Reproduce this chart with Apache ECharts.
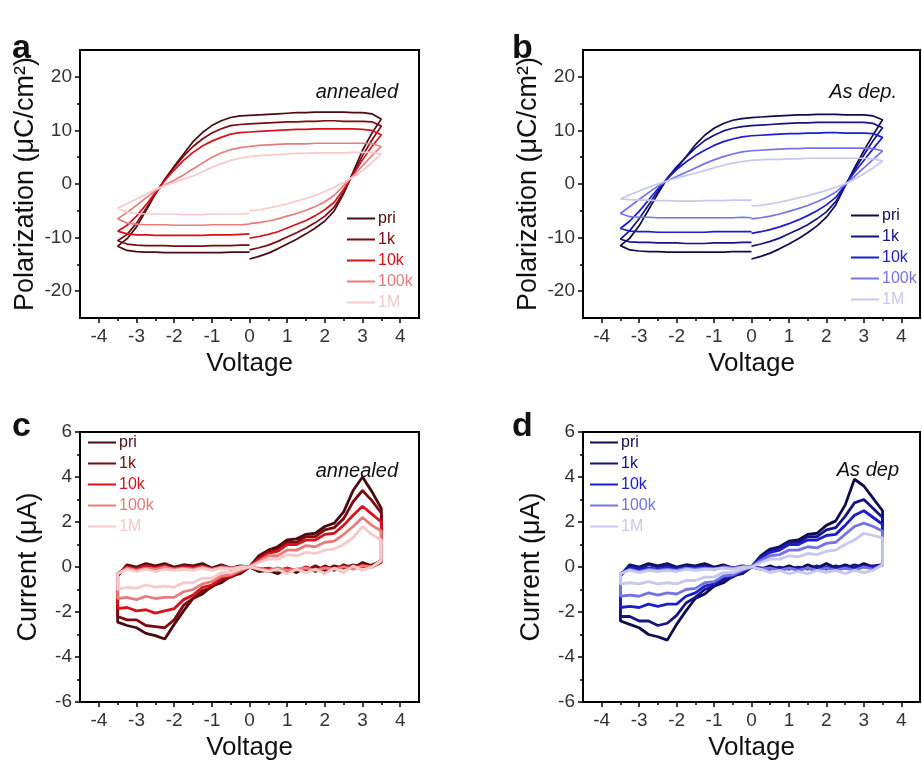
<!DOCTYPE html>
<html>
<head>
<meta charset="utf-8">
<script src="https://cdn.jsdelivr.net/npm/echarts@6/dist/echarts.min.js"></script>
<style>
html,body{margin:0;padding:0;background:#fff;}
#chart{width:922px;height:766px;}
</style>
</head>
<body>
<div id="chart"></div>
<script>
// ---------- categories / tick labels ----------
const SERIES_NAMES = ['pri', '1k', '10k', '100k', '1M'];
const X_TICKS = [-4, -3, -2, -1, 0, 1, 2, 3, 4];
const X_MINOR = [-3.5, -2.5, -1.5, -0.5, 0.5, 1.5, 2.5, 3.5];
const P_TICKS = [-20, -10, 0, 10, 20];
const P_MINOR = [-15, -5, 5, 15];
const I_TICKS = [-6, -4, -2, 0, 2, 4, 6];
const I_MINOR = [-5, -3, -1, 1, 3, 5];

// ---------- voltage sweeps ----------
const V_POS = [0, 0.25, 0.5, 0.75, 1, 1.25, 1.5, 1.75, 2, 2.25, 2.5, 2.75, 3, 3.25, 3.5];
const V_POS_REV = [3.5, 3.25, 3, 2.75, 2.5, 2.25, 2, 1.75, 1.5, 1.25, 1, 0.75, 0.5, 0.25, 0];
const V_DOWN = [3.5, 3.25, 3, 2.75, 2.5, 2.25, 2, 1.75, 1.5, 1.25, 1, 0.75, 0.5, 0.25, 0,
  -0.25, -0.5, -0.75, -1, -1.25, -1.5, -1.75, -2, -2.25, -2.5, -2.75, -3, -3.25, -3.5];
const V_NEG = [0, -0.25, -0.5, -0.75, -1, -1.25, -1.5, -1.75, -2, -2.25, -2.5, -2.75, -3, -3.25, -3.5];
const V_NEG_REV = [-3.5, -3.25, -3, -2.75, -2.5, -2.25, -2, -1.75, -1.5, -1.25, -1, -0.75, -0.5, -0.25, 0];

// ---------- panel a: polarization (annealed), rows = pri,1k,10k,100k,1M ----------
const PE_A_LOWER = [
  [-14.0,-13.5,-12.9,-12.1,-11.2,-10.3,-9.3,-8.2,-6.9,-5.0,-1.8,2.2,6.3,9.5,12.1],
  [-12.3,-11.9,-11.4,-10.7,-9.9,-9.1,-8.2,-7.2,-6.0,-4.3,-1.5,1.9,5.3,8.2,10.8],
  [-10.1,-9.8,-9.4,-8.9,-8.2,-7.5,-6.8,-5.9,-4.8,-3.4,-1.0,1.7,4.5,7.0,9.2],
  [-7.4,-7.2,-6.9,-6.5,-6.0,-5.5,-4.9,-4.2,-3.3,-2.1,-0.3,1.5,3.4,5.3,7.0],
  [-5.0,-4.8,-4.5,-4.1,-3.7,-3.2,-2.7,-2.1,-1.4,-0.6,0.3,1.3,2.5,4.0,5.6]
];
const PE_A_UPPER = [
  [12.1,13.1,13.3,13.3,13.4,13.4,13.4,13.4,13.3,13.3,13.2,13.1,13.0,12.9,12.8,12.7,12.4,11.8,10.9,9.6,7.9,5.6,3.3,0.9,-1.9,-5.0,-8.0,-10.2,-11.6],
  [10.8,11.6,11.7,11.7,11.7,11.8,11.8,11.7,11.7,11.6,11.6,11.5,11.4,11.3,11.2,11.1,10.9,10.3,9.5,8.4,7.0,5.2,3.1,0.8,-1.8,-4.6,-7.3,-9.4,-10.6],
  [9.2,10.0,10.2,10.3,10.3,10.3,10.3,10.3,10.2,10.2,10.1,10.0,9.9,9.8,9.7,9.6,9.3,8.7,8.0,7.1,5.9,4.4,2.6,0.6,-1.6,-3.9,-6.0,-7.7,-8.8],
  [7.0,7.5,7.6,7.6,7.6,7.6,7.6,7.6,7.5,7.5,7.5,7.4,7.3,7.2,7.0,6.8,6.4,5.8,5.0,3.9,2.8,1.7,0.7,-0.2,-1.3,-2.6,-4.0,-5.3,-6.5],
  [5.6,5.9,5.9,5.9,5.8,5.8,5.8,5.8,5.7,5.7,5.6,5.5,5.4,5.3,5.1,4.8,4.4,3.8,3.1,2.3,1.5,0.9,0.3,-0.3,-1.0,-1.9,-2.8,-3.7,-4.5]
];
const PE_A_RETURN = [
  [-11.6,-12.4,-12.6,-12.7,-12.7,-12.8,-12.8,-12.8,-12.8,-12.8,-12.8,-12.8,-12.7,-12.7,-12.7],
  [-10.6,-11.2,-11.4,-11.5,-11.5,-11.5,-11.6,-11.6,-11.6,-11.6,-11.5,-11.5,-11.5,-11.4,-11.4],
  [-8.8,-9.3,-9.5,-9.5,-9.6,-9.6,-9.6,-9.6,-9.6,-9.6,-9.5,-9.5,-9.5,-9.4,-9.3],
  [-6.5,-7.3,-7.5,-7.6,-7.6,-7.6,-7.7,-7.7,-7.7,-7.7,-7.6,-7.6,-7.6,-7.6,-7.5],
  [-4.5,-5.2,-5.5,-5.6,-5.6,-5.6,-5.6,-5.7,-5.7,-5.7,-5.6,-5.6,-5.6,-5.6,-5.5]
];

// ---------- panel b: polarization (as dep.) ----------
const PE_B_LOWER = [
  [-14.0,-13.5,-12.9,-12.1,-11.2,-10.2,-9.1,-7.8,-6.2,-3.9,-0.4,3.0,6.2,9.2,12.0],
  [-11.6,-11.2,-10.7,-10.1,-9.3,-8.5,-7.6,-6.5,-5.2,-3.3,-0.3,2.6,5.4,8.1,10.5],
  [-9.2,-8.9,-8.5,-8.0,-7.4,-6.7,-5.9,-5.0,-3.9,-2.5,-0.2,2.2,4.4,6.6,8.7],
  [-6.5,-6.3,-6.0,-5.6,-5.1,-4.6,-4.0,-3.3,-2.5,-1.5,-0.1,1.4,3.0,4.6,6.2],
  [-4.1,-4.0,-3.7,-3.4,-3.0,-2.6,-2.2,-1.7,-1.2,-0.6,0.0,0.9,1.9,3.0,4.3]
];
const PE_B_UPPER = [
  [12.0,12.7,12.9,12.9,12.9,13.0,13.0,13.0,12.9,12.9,12.8,12.7,12.6,12.5,12.4,12.2,11.9,11.3,10.4,9.1,7.3,5.1,2.9,1.0,-1.8,-4.8,-7.8,-10.1,-11.5],
  [10.5,11.3,11.5,11.5,11.5,11.5,11.5,11.5,11.4,11.4,11.3,11.2,11.1,11.0,10.9,10.7,10.4,9.9,9.1,8.1,6.7,5.0,3.2,1.1,-1.3,-3.9,-6.5,-8.7,-10.3],
  [8.7,9.4,9.5,9.5,9.5,9.6,9.6,9.5,9.5,9.4,9.4,9.3,9.2,9.1,9.0,8.8,8.4,7.9,7.2,6.3,5.3,4.1,2.7,1.0,-0.9,-3.0,-5.1,-6.9,-8.3],
  [6.2,6.6,6.7,6.7,6.7,6.7,6.7,6.7,6.7,6.6,6.6,6.5,6.4,6.3,6.2,6.0,5.6,5.1,4.5,3.8,3.0,2.2,1.4,0.6,-0.4,-1.6,-2.9,-4.2,-5.5],
  [4.3,4.7,4.8,4.8,4.8,4.8,4.8,4.8,4.8,4.7,4.7,4.6,4.6,4.5,4.4,4.2,3.9,3.5,3.0,2.5,2.0,1.6,1.1,0.6,0.0,-0.6,-1.3,-2.0,-2.8]
];
const PE_B_RETURN = [
  [-11.5,-12.3,-12.5,-12.6,-12.6,-12.7,-12.7,-12.7,-12.7,-12.7,-12.7,-12.7,-12.6,-12.6,-12.6],
  [-10.3,-10.8,-10.9,-10.9,-11.0,-11.0,-11.0,-11.1,-11.1,-11.1,-11.0,-11.0,-11.0,-10.9,-10.9],
  [-8.3,-8.8,-8.9,-8.9,-9.0,-9.0,-9.0,-9.0,-9.0,-9.0,-8.9,-8.9,-8.9,-8.9,-8.9],
  [-5.5,-6.1,-6.2,-6.2,-6.3,-6.3,-6.3,-6.3,-6.3,-6.3,-6.3,-6.3,-6.3,-6.2,-6.3],
  [-2.8,-2.9,-3.0,-3.0,-3.1,-3.1,-3.2,-3.2,-3.2,-3.1,-3.1,-3.1,-3.0,-3.0,-3.0]
];

// ---------- panel c: current (annealed) ----------
const IV_C_FWD_POS = [
  [0.0,0.5,0.75,0.9,1.2,1.25,1.45,1.5,1.8,1.95,2.45,3.4,4.0,3.35,2.6],
  [0.0,0.4,0.7,0.8,1.1,1.1,1.35,1.35,1.65,1.75,2.15,2.9,3.4,2.95,2.4],
  [0.0,0.35,0.6,0.7,1.0,1.0,1.2,1.2,1.45,1.5,1.85,2.3,2.7,2.35,2.0],
  [0.0,0.25,0.5,0.5,0.75,0.75,0.95,0.9,1.1,1.15,1.45,1.8,2.2,1.85,1.6],
  [0.0,0.2,0.35,0.35,0.55,0.5,0.65,0.6,0.75,0.8,1.0,1.3,1.8,1.45,1.2]
];
const IV_C_BACK_POS = [
  [0.3,0.05,0.2,-0.05,0.1,-0.15,0.05,-0.2,0.0,-0.25,-0.05,-0.3,-0.15,-0.2,0.0],
  [0.25,0.1,0.0,0.1,-0.05,0.05,-0.15,0.05,-0.15,-0.1,-0.2,-0.05,-0.2,-0.1,0.0],
  [0.2,0.0,0.1,-0.05,0.05,-0.1,0.0,-0.15,0.0,-0.15,-0.05,-0.15,-0.05,-0.1,0.0],
  [0.25,0.0,0.05,-0.1,0.0,-0.1,-0.05,-0.15,-0.05,-0.1,-0.15,-0.05,-0.15,-0.05,0.0],
  [0.3,0.0,-0.15,0.05,-0.25,-0.05,-0.3,-0.1,-0.25,-0.1,-0.3,-0.1,-0.2,-0.1,0.0]
];
const IV_C_FWD_NEG = [
  [0.0,-0.3,-0.4,-0.7,-0.85,-1.2,-1.4,-1.95,-2.55,-3.2,-3.05,-2.95,-2.7,-2.6,-2.45],
  [0.0,-0.25,-0.45,-0.55,-0.9,-1.05,-1.4,-1.7,-2.35,-2.7,-2.65,-2.6,-2.35,-2.35,-2.2],
  [0.0,-0.2,-0.4,-0.5,-0.8,-0.9,-1.25,-1.45,-1.85,-1.95,-2.05,-1.9,-1.95,-1.8,-1.85],
  [0.0,-0.15,-0.35,-0.4,-0.65,-0.75,-1.0,-1.1,-1.35,-1.35,-1.4,-1.3,-1.45,-1.35,-1.4],
  [0.0,-0.1,-0.25,-0.25,-0.5,-0.5,-0.7,-0.7,-0.9,-0.85,-0.9,-0.8,-0.95,-0.9,-1.0]
];
const IV_C_BACK_NEG = [
  [-0.4,0.1,0.0,0.15,0.05,0.15,0.0,0.1,0.05,0.15,-0.05,0.1,-0.05,0.05,0.0],
  [-0.35,0.05,-0.05,0.1,0.0,0.1,-0.05,0.05,0.0,0.05,-0.1,0.05,-0.1,0.0,0.0],
  [-0.3,0.0,-0.1,0.05,-0.05,0.05,-0.1,0.0,-0.05,0.05,-0.1,0.0,-0.1,0.0,0.0],
  [-0.3,-0.05,-0.15,-0.05,-0.1,0.0,-0.1,-0.05,-0.1,0.0,-0.1,0.0,-0.05,0.0,0.0],
  [-0.3,-0.1,-0.2,-0.1,-0.2,-0.1,-0.15,-0.1,-0.15,-0.05,-0.15,-0.05,-0.1,0.0,0.0]
];

// ---------- panel d: current (as dep) ----------
const IV_D_FWD_POS = [
  [0.0,0.5,0.8,0.9,1.15,1.2,1.45,1.5,1.85,2.05,2.75,3.9,3.6,3.05,2.5],
  [0.0,0.45,0.75,0.85,1.1,1.1,1.35,1.35,1.65,1.75,2.25,2.85,3.0,2.6,2.2],
  [0.0,0.4,0.65,0.75,1.0,1.0,1.2,1.2,1.4,1.45,1.85,2.3,2.5,2.2,1.9],
  [0.0,0.3,0.5,0.55,0.75,0.75,0.9,0.85,1.05,1.1,1.45,1.8,1.95,1.8,1.6],
  [0.0,0.2,0.35,0.35,0.5,0.45,0.6,0.55,0.7,0.75,1.0,1.2,1.5,1.4,1.3]
];
const IV_D_BACK_POS = [
  [0.1,0.0,0.15,-0.05,0.1,-0.05,0.15,-0.05,0.1,-0.1,0.05,-0.1,0.05,-0.1,0.0],
  [0.1,0.05,0.0,0.1,-0.05,0.05,-0.1,0.05,-0.1,0.0,-0.1,0.0,-0.1,-0.05,0.0],
  [0.1,-0.05,0.05,-0.1,0.0,-0.1,0.0,-0.15,-0.05,-0.1,-0.05,-0.15,-0.05,-0.05,0.0],
  [0.1,-0.1,0.0,-0.15,-0.05,-0.15,-0.05,-0.15,-0.05,-0.15,-0.05,-0.15,-0.05,-0.1,0.0],
  [0.1,-0.15,-0.25,-0.15,-0.3,-0.15,-0.25,-0.15,-0.3,-0.2,-0.3,-0.15,-0.25,-0.1,0.0]
];
const IV_D_FWD_NEG = [
  [0.0,-0.3,-0.4,-0.7,-0.85,-1.2,-1.4,-1.95,-2.55,-3.25,-3.1,-3.0,-2.7,-2.55,-2.4],
  [0.0,-0.2,-0.45,-0.55,-0.85,-1.0,-1.35,-1.6,-2.15,-2.5,-2.6,-2.4,-2.4,-2.2,-2.2],
  [0.0,-0.2,-0.4,-0.45,-0.75,-0.85,-1.15,-1.3,-1.65,-1.65,-1.75,-1.65,-1.8,-1.75,-1.8],
  [0.0,-0.15,-0.35,-0.4,-0.65,-0.7,-0.95,-1.0,-1.2,-1.15,-1.25,-1.15,-1.3,-1.25,-1.3],
  [0.0,-0.1,-0.25,-0.25,-0.45,-0.45,-0.6,-0.6,-0.75,-0.7,-0.75,-0.65,-0.75,-0.7,-0.75]
];
const IV_D_BACK_NEG = [
  [-0.4,0.1,0.0,0.15,0.05,0.15,0.0,0.1,0.05,0.15,0.0,0.1,-0.05,0.05,0.0],
  [-0.35,0.05,-0.05,0.1,0.0,0.1,-0.05,0.05,0.0,0.05,-0.05,0.05,-0.05,0.0,0.0],
  [-0.3,-0.05,-0.1,-0.05,-0.1,0.0,-0.1,-0.05,-0.05,0.0,-0.1,0.0,-0.05,0.0,0.0],
  [-0.3,-0.1,-0.2,-0.1,-0.15,-0.1,-0.15,-0.05,-0.1,-0.05,-0.1,0.0,-0.05,0.0,0.0],
  [-0.3,-0.15,-0.25,-0.15,-0.2,-0.15,-0.2,-0.1,-0.15,-0.1,-0.1,-0.05,-0.1,0.0,0.0]
];

// ---------- styling ----------
const REDS = ['#4b0b0e', '#7d0a10', '#d8121a', '#e67c7c', '#f7c9c9'];
const BLUES = ['#0d0d4d', '#141485', '#1c1cd0', '#7474e4', '#c6c8f2'];
const FONT = 'Liberation Sans, Arial, sans-serif';

function zip(xs, ys) { return xs.map((x, i) => [x, ys[i]]); }

const chart = echarts.init(document.getElementById('chart'), null, {renderer: 'canvas'});

const grids = [
  {left: 80, top: 50, width: 339, height: 268},
  {left: 583, top: 50, width: 337, height: 268},
  {left: 80, top: 432, width: 339, height: 270},
  {left: 583, top: 432, width: 337, height: 270}
].map(g => Object.assign({show: true, borderColor: '#000', borderWidth: 2, containLabel: false}, g));

const xAxes = [], yAxes = [];
function addAxes(gi, yMin, yMax, yTicks, yMinor, yName, yGap) {
  xAxes.push({
    type: 'value', gridIndex: gi, position: 'bottom', min: -4.5, max: 4.5,
    axisLine: {show: true, onZero: false, lineStyle: {color: '#000', width: 2}},
    axisTick: {show: true, inside: false, length: 5, customValues: X_TICKS, lineStyle: {color: '#000', width: 1.5}},
    axisLabel: {show: true, customValues: X_TICKS, fontSize: 19, color: '#333', margin: 9, fontFamily: FONT},
    splitLine: {show: false},
    name: 'Voltage', nameLocation: 'middle', nameGap: 33,
    nameTextStyle: {fontSize: 26, color: '#111', fontFamily: FONT}
  });
  xAxes.push({
    type: 'value', gridIndex: gi, position: 'bottom', min: -4.5, max: 4.5,
    axisLine: {show: false, onZero: false},
    axisTick: {show: true, inside: false, length: 3, customValues: X_MINOR, lineStyle: {color: '#000', width: 1.5}},
    axisLabel: {show: false}, splitLine: {show: false}
  });
  yAxes.push({
    type: 'value', gridIndex: gi, position: 'left', min: yMin, max: yMax,
    axisLine: {show: true, onZero: false, lineStyle: {color: '#000', width: 2}},
    axisTick: {show: true, inside: false, length: 5, customValues: yTicks, lineStyle: {color: '#000', width: 1.5}},
    axisLabel: {show: true, customValues: yTicks, fontSize: 19, color: '#333', margin: 8, fontFamily: FONT},
    splitLine: {show: false},
    name: yName, nameLocation: 'middle', nameGap: yGap,
    nameTextStyle: {fontSize: 27, color: '#111', fontFamily: FONT}
  });
  yAxes.push({
    type: 'value', gridIndex: gi, position: 'left', min: yMin, max: yMax,
    axisLine: {show: false, onZero: false},
    axisTick: {show: true, inside: false, length: 3, customValues: yMinor, lineStyle: {color: '#000', width: 1.5}},
    axisLabel: {show: false}, splitLine: {show: false}
  });
}
addAxes(0, -25, 25, P_TICKS, P_MINOR, 'Polarization (μC/cm²)', 41);
addAxes(1, -25, 25, P_TICKS, P_MINOR, 'Polarization (μC/cm²)', 41);
addAxes(2, -6, 6, I_TICKS, I_MINOR, 'Current (μA)', 38);
addAxes(3, -6, 6, I_TICKS, I_MINOR, 'Current (μA)', 38);

const series = [];
const legends = [];
function peSeries(panel, gi, lower, upper, ret, colors) {
  SERIES_NAMES.forEach((n, k) => {
    const data = zip(V_POS, lower[k]).concat(zip(V_DOWN, upper[k]), zip(V_NEG_REV, ret[k]));
    series.push({
      type: 'line', name: panel + '|' + n, xAxisIndex: gi * 2, yAxisIndex: gi * 2,
      data: data, showSymbol: false, symbol: 'none', smooth: false,
      lineStyle: {color: colors[k], width: 1.7}, itemStyle: {color: colors[k]}, z: 2 + k
    });
  });
}
function ivSeries(panel, gi, fp, bp, fn, bn, colors) {
  SERIES_NAMES.forEach((n, k) => {
    const data = zip(V_POS, fp[k]).concat(zip(V_POS_REV, bp[k]), zip(V_NEG, fn[k]), zip(V_NEG_REV, bn[k]));
    series.push({
      type: 'line', name: panel + '|' + n, xAxisIndex: gi * 2, yAxisIndex: gi * 2,
      data: data, showSymbol: false, symbol: 'none', smooth: false,
      lineStyle: {color: colors[k], width: 2.8}, itemStyle: {color: colors[k]}, z: 2 + k
    });
  });
}
peSeries('a', 0, PE_A_LOWER, PE_A_UPPER, PE_A_RETURN, REDS);
peSeries('b', 1, PE_B_LOWER, PE_B_UPPER, PE_B_RETURN, BLUES);
ivSeries('c', 2, IV_C_FWD_POS, IV_C_BACK_POS, IV_C_FWD_NEG, IV_C_BACK_NEG, REDS);
ivSeries('d', 3, IV_D_FWD_POS, IV_D_BACK_POS, IV_D_FWD_NEG, IV_D_BACK_NEG, BLUES);

function legendFor(panel, colors, left, top) {
  return {
    orient: 'vertical', left: left, top: top, itemWidth: 28, itemHeight: 2, itemGap: 4,
    icon: 'rect', padding: 0, selectedMode: false,
    formatter: name => name.split('|')[1],
    textStyle: {fontSize: 16, fontFamily: FONT, lineHeight: 17, padding: [0, 0, 0, -2]},
    data: SERIES_NAMES.map((n, k) => ({name: panel + '|' + n, textStyle: {color: colors[k]}}))
  };
}
legends.push(legendFor('a', REDS, 347, 210));
legends.push(legendFor('b', BLUES, 851, 207));
legends.push(legendFor('c', REDS, 88, 434));
legends.push(legendFor('d', BLUES, 590, 434));

const txt = (x, y, text, font, align) => ({
  type: 'text', x: x, y: y,
  style: {text: text, font: font, fill: '#111', align: align || 'left', verticalAlign: 'alphabetic'}
});

chart.setOption({
  animation: false,
  backgroundColor: '#fff',
  grid: grids,
  xAxis: xAxes,
  yAxis: yAxes,
  legend: legends,
  series: series,
  graphic: [
    txt(12, 32, 'a', 'bold 34px ' + FONT),
    txt(512, 32, 'b', 'bold 34px ' + FONT),
    txt(12, 410, 'c', 'bold 34px ' + FONT),
    txt(512, 410, 'd', 'bold 34px ' + FONT),
    txt(398, 82, 'annealed', 'italic 20px ' + FONT, 'right'),
    txt(897, 82, 'As dep.', 'italic 20px ' + FONT, 'right'),
    txt(398, 461, 'annealed', 'italic 20px ' + FONT, 'right'),
    txt(899, 460, 'As dep', 'italic 20px ' + FONT, 'right')
  ]
});
</script>
</body>
</html>
